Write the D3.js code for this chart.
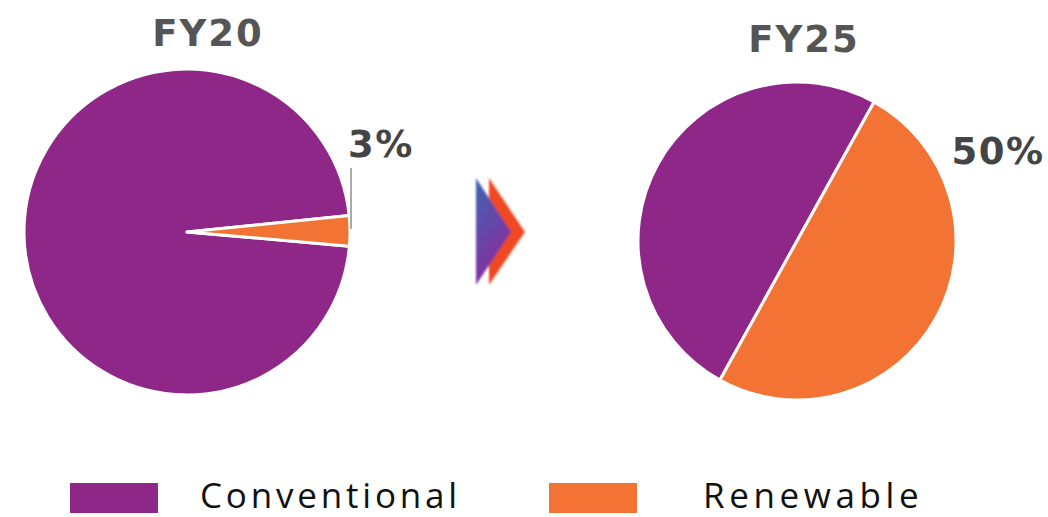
<!DOCTYPE html>
<html><head><meta charset="utf-8">
<script src="https://cdn.jsdelivr.net/npm/d3@7"></script>
<style>body{margin:0;background:#fff}svg{display:block}</style>
</head><body>
<svg id="c" width="1048" height="517"></svg>
<script>
const categories = ["Conventional", "Renewable"];
const years = ["FY20", "FY25"];
const fy20Values = [97, 3];
const fy25Values = [50, 50];
const pctLabels = ["3%", "50%"];

const colors = d3.scaleOrdinal().domain(categories).range(["#8E2788", "#F37335"]);
const svg = d3.select("#c");

const defs = svg.append("defs");
const g1 = defs.append("linearGradient").attr("id","ag").attr("x1","0").attr("y1","0").attr("x2","0.4").attr("y2","1");
g1.append("stop").attr("offset","0%").attr("stop-color","#3D66B3");
g1.append("stop").attr("offset","100%").attr("stop-color","#8B2A9C");
defs.append("filter").attr("id","bl").append("feGaussianBlur").attr("stdDeviation","0.8");

const pies = [
  {year: years[0], values: fy20Values, cx: 187, cy: 232, r: 163, start: 95, titleX: 208, titleY: 46,
   label: pctLabels[0], lx: 381, ly: 157, leader: true},
  {year: years[1], values: fy25Values, cx: 797, cy: 241, r: 159, start: 209, titleX: 804, titleY: 52,
   label: pctLabels[1], lx: 998, ly: 164, leader: false}
];

const boldFont = "'DejaVu Sans', sans-serif";
pies.forEach(p => {
  const s = p.start * Math.PI / 180;
  const pie = d3.pie().sort(null).startAngle(s).endAngle(s + 2 * Math.PI);
  const arc = d3.arc().innerRadius(0).outerRadius(p.r);
  const data = categories.map((c, i) => ({cat: c, v: p.values[i]}));
  const g = svg.append("g").attr("transform", `translate(${p.cx},${p.cy})`);
  g.selectAll("path").data(pie.value(d => d.v)(data)).join("path")
    .attr("d", arc).attr("fill", d => colors(d.data.cat))
    .attr("stroke", "#fff").attr("stroke-width", 3).attr("stroke-linejoin", "round");
  svg.append("text").attr("x", p.titleX).attr("y", p.titleY).attr("text-anchor", "middle")
    .attr("font-family", boldFont).attr("font-weight", "bold").attr("letter-spacing", 2)
    .attr("font-size", 37).attr("fill", "#555").text(p.year);
  svg.append("text").attr("x", p.lx).attr("y", p.ly).attr("text-anchor", "middle")
    .attr("font-family", boldFont).attr("font-weight", "bold").attr("letter-spacing", 1.5)
    .attr("font-size", 37).attr("fill", "#444").text(p.label);
  if (p.leader) {
    svg.append("line").attr("x1", 351).attr("x2", 351).attr("y1", 168).attr("y2", 229)
      .attr("stroke", "#aaa").attr("stroke-width", 2);
  }
});

// arrow
const ag = svg.append("g").attr("filter","url(#bl)");
ag.append("path").attr("d","M489,178 L525,232 L489,285 Z").attr("fill","#EE4A22");
ag.append("path").attr("d","M476,178 L511,232 L476,285 Z").attr("fill","url(#ag)");

// legend
const leg = [{x: 70, tx: 200, ls: 3.8}, {x: 549, tx: 703, ls: 4.6}];
categories.forEach((c, i) => {
  svg.append("rect").attr("x", leg[i].x).attr("y", 483).attr("width", 88).attr("height", 30).attr("fill", colors(c));
  svg.append("text").attr("x", leg[i].tx).attr("y", 508).attr("font-family", "'Open Sans', sans-serif")
    .attr("font-size", 35).attr("letter-spacing", leg[i].ls).attr("fill", "#111").text(c);
});
</script>
</body></html>
